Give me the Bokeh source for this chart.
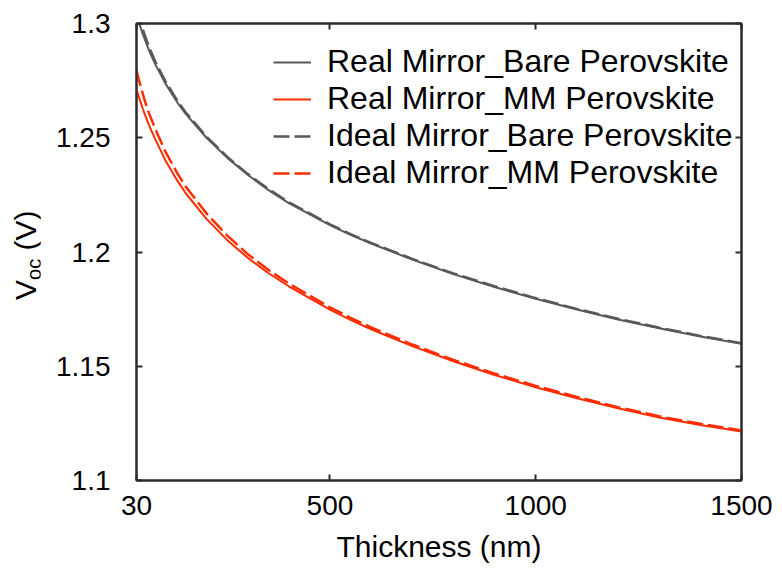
import numpy as np
from bokeh.plotting import figure
from bokeh.layouts import row
from bokeh.models import (Range1d, LinearAxis, FixedTicker, Legend, LegendItem, Div,
                          CustomLabelingPolicy)
from bokeh.embed import file_html
from bokeh.resources import INLINE

# ---- data ----
thickness = [30, 35, 40, 45, 50, 60, 76, 100, 130, 150, 200, 250, 300, 350, 400, 500, 550,
             600, 700, 800, 900, 1000, 1100, 1200, 1300, 1400, 1500]

real_bare = [1.3030, 1.3006, 1.2982, 1.2956, 1.2932, 1.2884, 1.2820, 1.2738, 1.2652,
             1.2603, 1.2500, 1.2413, 1.2338, 1.2272, 1.2214, 1.2118, 1.2075, 1.2037,
             1.1967, 1.1903, 1.1847, 1.1795, 1.1748, 1.1705, 1.1666, 1.1630, 1.1598]
ideal_bare = [1.3060, 1.3031, 1.3002, 1.2975, 1.2950, 1.2899, 1.2832, 1.2748, 1.2660,
              1.2610, 1.2505, 1.2417, 1.2342, 1.2276, 1.2218, 1.2121, 1.2078, 1.2040,
              1.1970, 1.1906, 1.1850, 1.1798, 1.1751, 1.1708, 1.1669, 1.1633, 1.1601]
real_mm = [1.2712, 1.2683, 1.2656, 1.2629, 1.2603, 1.2556, 1.2492, 1.2402, 1.2310,
           1.2256, 1.2145, 1.2053, 1.1975, 1.1908, 1.1850, 1.1748, 1.1703, 1.1662,
           1.1588, 1.1522, 1.1462, 1.1408, 1.1360, 1.1316, 1.1276, 1.1243, 1.1214]
ideal_mm = [1.2795, 1.2759, 1.2726, 1.2694, 1.2663, 1.2609, 1.2537, 1.2440, 1.2342,
            1.2285, 1.2169, 1.2073, 1.1991, 1.1922, 1.1862, 1.1758, 1.1712, 1.1670,
            1.1595, 1.1528, 1.1468, 1.1414, 1.1366, 1.1321, 1.1281, 1.1248, 1.1219]

series_labels = ["Real Mirror_Bare Perovskite", "Real Mirror_MM Perovskite",
                 "Ideal Mirror_Bare Perovskite", "Ideal Mirror_MM Perovskite"]

x_ticks = [30, 500, 1000, 1500]
y_ticks = [1.1, 1.15, 1.2, 1.25, 1.3]
y_tick_labels = {1.1: "1.1", 1.15: "1.15", 1.2: "1.2", 1.25: "1.25", 1.3: "1.3"}

GRAY = "#595959"
RED = "#ff2d00"
FONT = "Liberation Sans"
FS = "28px"

x0, x1 = 30, 1500
y0, y1 = 1.1, 1.3

DIV_W = 40

p = figure(width=782 - DIV_W, height=576, output_backend="svg", toolbar_location=None,
           x_range=Range1d(x0, x1), y_range=Range1d(y0, y1),
           min_border_left=136 - DIV_W, min_border_right=41, min_border_top=23,
           min_border_bottom=96, x_axis_location=None, y_axis_location=None)
p.xgrid.visible = False
p.ygrid.visible = False
p.outline_line_color = "#2b2b2b"
p.outline_line_width = 2
p.background_fill_color = "white"
p.border_fill_color = "white"

hide_all = CustomLabelingPolicy(code="""
const n = indices.size
for (let i = 0; i < n; i++) indices.unset(i)
return indices
""")

def style_axis(ax, labels=True):
    ax.axis_line_color = "#2b2b2b"
    ax.axis_line_width = 2
    ax.major_tick_in = 6
    ax.major_tick_out = 0
    ax.major_tick_line_color = "#2b2b2b"
    ax.major_tick_line_width = 2
    ax.minor_tick_line_color = None
    ax.major_label_text_font = FONT
    ax.major_label_text_font_size = FS
    ax.major_label_text_color = "black"
    if not labels:
        ax.major_label_policy = hide_all
        ax.major_label_text_font_size = "0px"
        ax.major_label_standoff = 0

xb = LinearAxis(ticker=FixedTicker(ticks=x_ticks), axis_label="Thickness (nm)")
style_axis(xb)
xb.major_label_standoff = 15
xb.axis_label_text_font = FONT
xb.axis_label_text_font_size = "30px"
xb.axis_label_text_font_style = "normal"
xb.axis_label_text_color = "black"
xb.axis_label_standoff = 12
p.add_layout(xb, "below")

xt = LinearAxis(ticker=FixedTicker(ticks=x_ticks))
style_axis(xt, labels=False)
p.add_layout(xt, "above")

yl = LinearAxis(ticker=FixedTicker(ticks=y_ticks))
yl.major_label_overrides = y_tick_labels
style_axis(yl)
yl.major_label_standoff = 26
p.add_layout(yl, "left")

yr = LinearAxis(ticker=FixedTicker(ticks=y_ticks))
style_axis(yr, labels=False)
p.add_layout(yr, "right")

r1 = p.line(thickness, real_bare, line_color=GRAY, line_width=2)
r2 = p.line(thickness, real_mm, line_color=RED, line_width=2)
r3 = p.line(thickness, ideal_bare, line_color=GRAY, line_width=2.5, line_dash="16 5")
r4 = p.line(thickness, ideal_mm, line_color=RED, line_width=2.5, line_dash="16 5")

legend = Legend(items=[LegendItem(label=series_labels[0], renderers=[r1]),
                       LegendItem(label=series_labels[1], renderers=[r2]),
                       LegendItem(label=series_labels[2], renderers=[r3]),
                       LegendItem(label=series_labels[3], renderers=[r4])],
                location=(137, 289))
legend.border_line_color = None
legend.background_fill_alpha = 0
legend.label_text_font = FONT
legend.label_text_font_size = "32px"
legend.label_text_color = "black"
legend.glyph_width = 38
legend.glyph_height = 36
legend.label_height = 36
legend.label_standoff = 16
legend.spacing = 0
legend.padding = 0
legend.margin = 0
p.add_layout(legend, "center")

# y axis title with subscript (rotated HTML text)
ylabel_html = (
    '<div style="position:absolute; left:11px; top:300px; transform:rotate(-90deg); '
    'transform-origin:left top; white-space:nowrap; font-family:\'Liberation Sans\'; '
    'font-size:30px; line-height:30px; color:black;">'
    'V<span style="font-size:20px; position:relative; top:5px;">oc</span> (V)</div>'
)
ydiv = Div(text=ylabel_html, width=DIV_W, height=576, margin=0,
           styles={"position": "relative", "overflow": "visible"})

layout = row(ydiv, p, spacing=0)
open("out.html", "w").write(file_html(layout, INLINE))
